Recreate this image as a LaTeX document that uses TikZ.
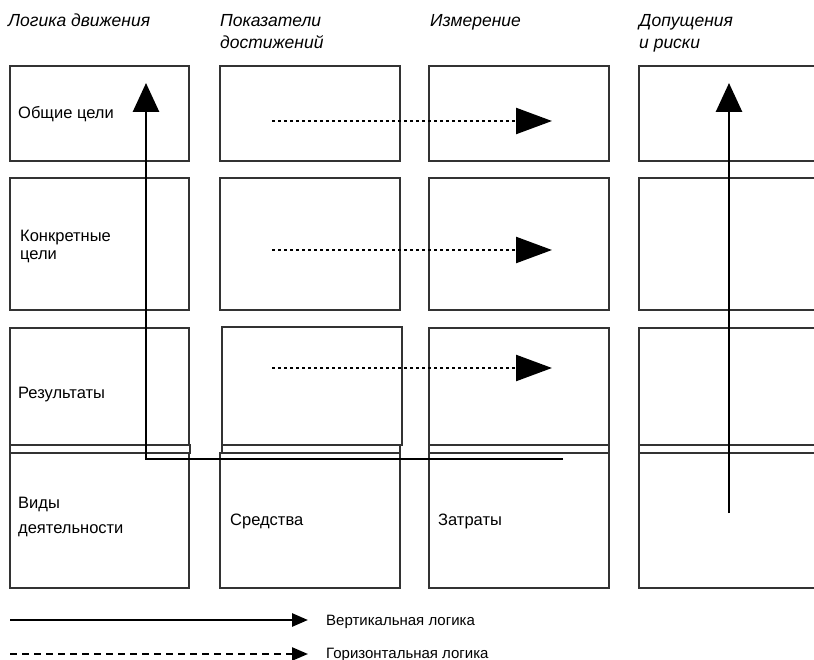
\documentclass[tikz,border=0pt]{standalone}
\usepackage{fontspec}
\setmainfont{Liberation Sans}
\usetikzlibrary{arrows.meta}
\begin{document}
\begin{tikzpicture}[x=1pt,y=-1pt,
  box/.style={draw=black!80,line width=1.3pt,inner sep=0pt,outer sep=0pt,anchor=north west,fill=white},
  lbl/.style={anchor=base west,inner sep=0pt,font=\fontsize{16.5}{18}\selectfont},
  leg/.style={anchor=base west,inner sep=0pt,font=\fontsize{15}{17}\selectfont},
  hdr/.style={anchor=base west,inner sep=0pt,font=\fontsize{17.5}{20}\selectfont\itshape},
  vline/.style={line width=2.8pt,-{Triangle[length=29pt,width=26pt]}},
  hline/.style={line width=2.4pt,dash pattern=on 3pt off 3pt,-{Triangle[length=36pt,width=26pt]}},
  legv/.style={line width=2.8pt,-{Triangle[length=16pt,width=13pt]}},
  legh/.style={line width=2.4pt,dash pattern=on 7pt off 5pt,-{Triangle[length=16pt,width=13pt]}}]
\clip (0,0) rectangle (814,660);
% headers
\node[hdr] (h1) at (8,27) {Логика движения};
\node[hdr] (h2) at (220,27) {Показатели};
\node[hdr] (h2b) at (220,49) {достижений};
\node[hdr] (h3) at (430,27) {Измерение};
\node[hdr] (h4) at (639,27) {Допущения};
\node[hdr] (h4b) at (639,49) {и риски};
% row 1
\node[box,minimum width=179pt,minimum height=95pt] (b11) at (10,66) {};
\node[box,minimum width=180pt,minimum height=95pt] (b12) at (220,66) {};
\node[box,minimum width=180pt,minimum height=95pt] (b13) at (429,66) {};
\node[box,minimum width=200pt,minimum height=95pt] (b14) at (639,66) {};
% row 2
\node[box,minimum width=179pt,minimum height=132pt] (b21) at (10,178) {};
\node[box,minimum width=180pt,minimum height=132pt] (b22) at (220,178) {};
\node[box,minimum width=180pt,minimum height=132pt] (b23) at (429,178) {};
\node[box,minimum width=200pt,minimum height=132pt] (b24) at (639,178) {};
% row 3
\node[box,minimum width=179pt,minimum height=117pt] (b31) at (10,328) {};
\node[box,minimum width=180pt,minimum height=118pt] (b32) at (222,327) {};
\node[box,minimum width=180pt,minimum height=117pt] (b33) at (429,328) {};
\node[box,minimum width=200pt,minimum height=117pt] (b34) at (639,328) {};
% row 4
\node[box,minimum width=179pt,minimum height=135pt] (b41) at (10,453) {};
\node[box,minimum width=180pt,minimum height=135pt] (b42) at (220,453) {};
\node[box,minimum width=180pt,minimum height=135pt] (b43) at (429,453) {};
\node[box,minimum width=200pt,minimum height=135pt] (b44) at (639,453) {};
% thin bars
\node[box,minimum width=180pt,minimum height=8pt] (r1) at (10,445) {};
\node[box,minimum width=178pt,minimum height=8pt] (r2) at (222,445) {};
\node[box,minimum width=180pt,minimum height=8pt] (r3) at (429,445) {};
\node[box,minimum width=200pt,minimum height=8pt] (r4) at (639,445) {};
% labels
\node[lbl] (t1) at (18,119) {Общие цели};
\node[lbl] (t2) at (20,242) {Конкретные};
\node[lbl] (t2b) at (20,260) {цели};
\node[lbl] (t3) at (18,398) {Результаты};
\node[lbl] (t4) at (18,508) {Виды};
\node[lbl] (t4b) at (18,533) {деятельности};
\node[lbl] (t5) at (230,525) {Средства};
\node[lbl] (t6) at (438,525) {Затраты};
% vertical logic arrows
\coordinate (vs) at (563,459);
\coordinate (vc) at (146,459);
\coordinate (ve) at (146,83);
\draw[vline] (vs) -- (vc) -- (ve);
\coordinate (ws) at (729,513);
\coordinate (we) at (729,83);
\draw[vline] (ws) -- (we);
% horizontal logic arrows
\coordinate (d1s) at (272,121); \coordinate (d1e) at (552,121);
\coordinate (d2s) at (272,250); \coordinate (d2e) at (552,250);
\coordinate (d3s) at (272,368); \coordinate (d3e) at (552,368);
\draw[hline] (d1s) -- (d1e);
\draw[hline] (d2s) -- (d2e);
\draw[hline] (d3s) -- (d3e);
% legend
\coordinate (l1s) at (10,620); \coordinate (l1e) at (308,620);
\coordinate (l2s) at (10,654); \coordinate (l2e) at (308,654);
\draw[legv] (l1s) -- (l1e);
\draw[legh] (l2s) -- (l2e);
\node[leg] (lt1) at (326,625) {Вертикальная логика};
\node[leg] (lt2) at (326,658) {Горизонтальная логика};
\end{tikzpicture}
\end{document}
